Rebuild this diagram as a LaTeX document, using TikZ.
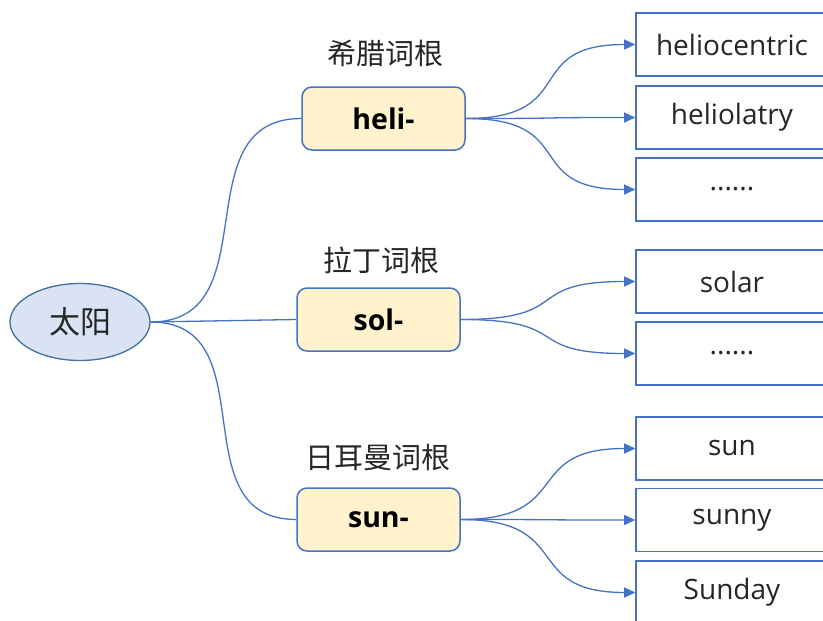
\documentclass[tikz,border=0pt]{standalone}
\usepackage{fontspec}
\setmainfont{Open Sans}
\newfontfamily\cjk{Noto Sans CJK SC}
\usetikzlibrary{arrows.meta,shapes.geometric}
\definecolor{lineblue}{HTML}{4472C4}
\definecolor{boxyellow}{HTML}{FFF2CC}
\definecolor{ellfill}{HTML}{DAE3F3}
\definecolor{ellline}{HTML}{41719C}
\definecolor{txt}{HTML}{262626}
\tikzset{
  rootnode/.style={ellipse,draw=ellline,fill=ellfill,line width=1.3pt,minimum width=140pt,minimum height=77pt,inner sep=0pt,font=\cjk\fontsize{31}{31}\selectfont,text=txt},
  rootbox/.style={rectangle,rounded corners=10pt,draw=lineblue,fill=boxyellow,line width=1.5pt,minimum width=163pt,minimum height=63pt,inner sep=0pt,font=\bfseries\fontsize{28.5}{28.5}\selectfont,text=black},
  wordbox/.style={rectangle,draw=lineblue,fill=white,line width=1.6pt,minimum width=192pt,minimum height=63pt,inner sep=0pt,font=\fontsize{28}{28}\selectfont,text=txt},
  tag/.style={font=\cjk\fontsize{29}{29}\selectfont,text=txt,inner sep=0pt},
  link/.style={draw=lineblue,line width=1.3pt},
  arr/.style={link,-{Triangle[length=11pt,width=10pt]}}
}
\begin{document}
\begin{tikzpicture}[x=1pt,y=-1pt]
\useasboundingbox (0,0) rectangle (823,621);
\node[rootnode] (sun) at (80,322) {太阳};
\node[rootbox] (heli) at (383.5,118.5) {heli-};
\node[rootbox] (sol) at (378.5,319.5) {sol-};
\node[rootbox] (sunr) at (378.5,519.5) {sun-};
\node[tag] (t1) at (385,53) {希腊词根};
\node[tag] (t2) at (381,260) {拉丁词根};
\node[tag] (t3) at (378,457) {日耳曼词根};
\node[wordbox] (w1) at (732,44.5) {heliocentric};
\node[wordbox] (w2) at (732,117.5) {heliolatry};
\node[wordbox] (w3) at (732,189.5) {......};
\node[wordbox] (w4) at (732,281.5) {solar};
\node[wordbox] (w5) at (732,353.5) {......};
\node[wordbox] (w6) at (732,448.5) {sun};
\node[wordbox] (w7) at (732,520) {sunny};
\node[wordbox] (w8) at (732,592.5) {Sunday};
% root connectors
\draw[link] (sun.east) .. controls +(120,0) and +(-120,0) .. (heli.west);
\draw[link] (sun.east) -- (sol.west);
\draw[link] (sun.east) .. controls +(118,0) and +(-118,0) .. (sunr.west);
% word connectors
\foreach \s/\t in {heli/w1,heli/w2,heli/w3,sol/w4,sol/w5,sunr/w6,sunr/w7,sunr/w8}{
  \draw[arr] (\s.east) .. controls +(115,0) and +(-115,0) .. (\t.west);
}
\end{tikzpicture}
\end{document}
